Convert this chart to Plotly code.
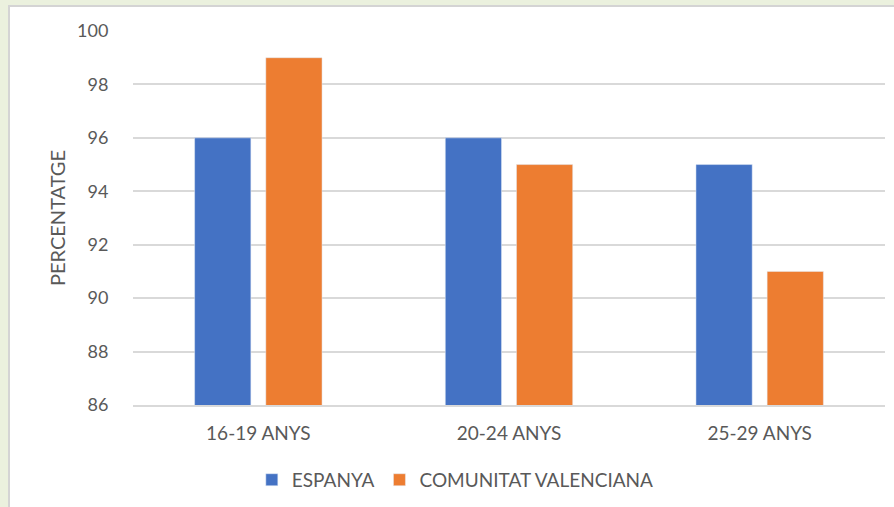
import plotly.graph_objects as go

categories = ["16-19 ANYS", "20-24 ANYS", "25-29 ANYS"]
espanya = [96, 96, 95]
valenciana = [99, 95, 91]
y_ticks = [86, 88, 90, 92, 94, 96, 98, 100]

BLUE = "#4472C4"
ORANGE = "#ED7D31"
TEXT = "#595959"
GRID = "#D9D9D9"
FONT = "Lato, 'Open Sans', sans-serif"

fig = go.Figure()
fig.add_trace(go.Bar(x=categories, y=espanya, name="ESPANYA", marker_color=BLUE))
fig.add_trace(go.Bar(x=categories, y=valenciana, name="COMUNITAT VALENCIANA", marker_color=ORANGE))

# white chart frame over the pale green page
fig.add_shape(
    type="rect", xref="paper", yref="paper",
    x0=-0.1649, x1=1.03, y0=-0.3, y1=1.0667,
    fillcolor="white", line=dict(color="#D4D4D4", width=2),
    layer="below",
)

fig.update_layout(
    width=894, height=507,
    margin=dict(l=133, r=9, t=31, b=101),
    paper_bgcolor="#EBF1DE",
    plot_bgcolor="rgba(0,0,0,0)",
    barmode="group",
    bargap=0.432,
    bargroupgap=0.21,
    font=dict(family=FONT, size=19, color=TEXT),
    legend=dict(
        orientation="h",
        x=0.158, xanchor="left",
        y=-0.197, yanchor="middle",
        font=dict(size=19, color=TEXT),
        bgcolor="rgba(0,0,0,0)",
    ),
    xaxis=dict(
        showgrid=False,
        showline=True, linecolor=GRID, linewidth=2,
        ticks="outside", ticklen=10, tickcolor="rgba(0,0,0,0)",
        tickfont=dict(size=19, color=TEXT),
    ),
    yaxis=dict(
        range=[86, 100],
        tickvals=y_ticks,
        showgrid=True, gridcolor=GRID, gridwidth=1.5,
        zeroline=False,
        ticks="outside", ticklen=20, tickcolor="rgba(0,0,0,0)",
        tickfont=dict(size=18, color=TEXT),
        title=dict(text="PERCENTATGE", standoff=6, font=dict(size=20, color=TEXT)),
    ),
)

# the page body has a default 8px margin; drop it so the figure sits at 0,0
fig.write_html(
    "out.html",
    config={"displayModeBar": False},
    post_script="document.body.style.margin='0';",
)
